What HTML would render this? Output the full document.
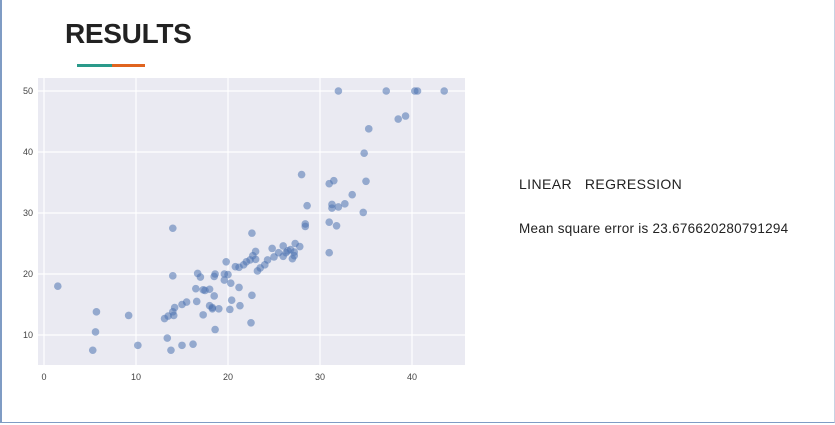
<!DOCTYPE html>
<html><head><meta charset="utf-8"><style>
body{margin:0;width:835px;height:425px;overflow:hidden;background:#fff;font-family:"Liberation Sans",sans-serif}
#frame{position:absolute;left:0;top:0;width:832px;height:422px;border-left:2px solid #7f9cc4;border-bottom:1px solid #7f9cc4;border-right:1px solid #c8d3e3}
</style></head><body>
<div id="frame"></div>
<div style="position:absolute;left:65px;top:18px;font-size:28px;font-weight:bold;color:#222;letter-spacing:-0.3px">RESULTS</div>
<div style="position:absolute;left:77px;top:64px;width:35px;height:3px;background:#2a9a8a"></div>
<div style="position:absolute;left:112px;top:64px;width:33px;height:3px;background:#e0641f"></div>
<div style="position:absolute;left:519px;top:176px;font-size:14px;color:#222;white-space:pre;letter-spacing:0.4px">LINEAR   REGRESSION</div>
<div style="position:absolute;left:519px;top:221px;font-size:13.5px;color:#222;letter-spacing:0.25px">Mean square error is 23.676620280791294</div>
<svg id="chart" width="835" height="425" style="position:absolute;left:0;top:0">
<rect x="38" y="78" width="427" height="287" fill="#eaeaf2"/>
<g id="grid"></g><g id="pts"></g><g id="ticks"></g>
</svg>
<script>
const xs=[1.5,5.3,5.6,5.7,9.2,10.2,13.1,13.4,13.5,13.8,14,14.1,14.2,14,14,15,15,15.5,16.2,16.5,16.7,16.6,17.3,17.3,17.5,17,18,18,18.3,18.5,18.6,18.5,18.6,18.3,19,19.6,19.8,19.6,20,20.3,20.2,20.4,20.8,21.2,21.3,21.7,21.2,22,22.4,22.6,22.6,22.5,22.7,23,23,23.2,23.5,24,24.3,24.8,25,25.5,26,26,26.5,26.8,26.3,27,27.2,27.2,27.3,27.8,28,28.4,28.4,28.6,31,31,31,31.5,31.3,31.3,31.8,32,32.7,33.5,34.7,34.8,35,35.3,32,37.2,40.3,40.6,43.5,38.5,39.3];
const ys=[18,7.5,10.5,13.8,13.2,8.3,12.7,9.5,13.1,7.5,13.8,13.2,14.5,19.7,27.5,15,8.3,15.4,8.5,17.6,20.1,15.5,17.4,13.3,17.3,19.5,17.5,14.8,14.5,19.6,20,16.4,10.9,14.3,14.3,19,22,20,19.9,18.5,14.2,15.7,21.2,17.8,14.8,21.5,21.1,22,22.3,26.7,16.5,12,23,23.7,22.4,20.5,21,21.5,22.3,24.2,22.8,23.5,24.6,22.9,23.8,24,23.5,22.5,23,23.6,25,24.5,36.3,28.2,27.8,31.2,23.5,28.5,34.8,35.3,31.4,30.8,27.9,31,31.5,33,30.1,39.8,35.2,43.8,50,50,50,50,50,45.4,45.9];
const xTicks=[0,10,20,30,40];
const yTicks=[10,20,30,40,50];
const X=v=>44+v*9.2, Y=v=>335-(v-10)*6.1;
const NS="http://www.w3.org/2000/svg";
const g=document.getElementById('grid'),p=document.getElementById('pts'),t=document.getElementById('ticks');
function mk(tag,a){const e=document.createElementNS(NS,tag);for(const k in a)e.setAttribute(k,a[k]);return e;}
xTicks.forEach(v=>{const l=mk('line',{x1:X(v),x2:X(v),y1:78,y2:365,stroke:'#fff','stroke-width':1.2});

g.appendChild(l);
const s=mk('text',{x:X(v),y:380,'font-size':9,'text-anchor':'middle',fill:'#444','font-family':'Liberation Sans'});s.textContent=v;

t.appendChild(s);});
yTicks.forEach(v=>{const l=mk('line',{x1:38,x2:465,y1:Y(v),y2:Y(v),stroke:'#fff','stroke-width':1.2});

g.appendChild(l);
const s=mk('text',{x:33,y:Y(v)+3,'font-size':9,'text-anchor':'end',fill:'#444','font-family':'Liberation Sans'});s.textContent=v;

t.appendChild(s);});
xs.forEach((v,i)=>{const c=mk('circle',{cx:X(v),cy:Y(ys[i]),r:3.8,fill:'#4c72b0','fill-opacity':0.55});

p.appendChild(c);});
</script>
</body></html>
